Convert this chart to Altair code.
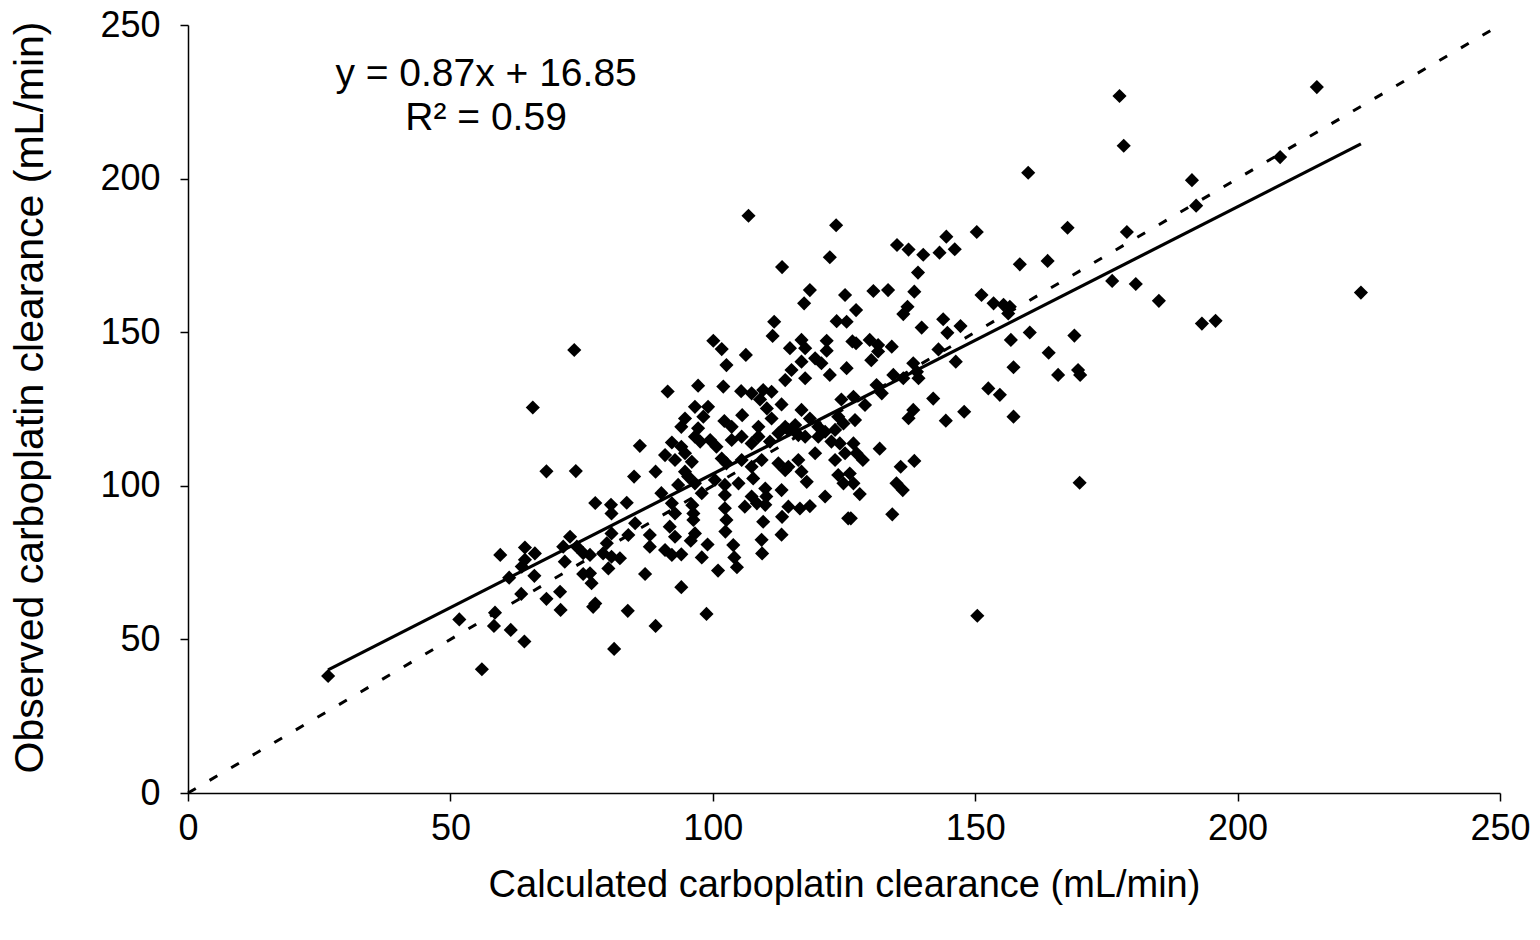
import altair as alt
import pandas as pd

# Calculated (x) and observed (y) carboplatin clearance, mL/min
calc = [
    26.7, 56.0, 59.5, 64.2, 66.1, 64.2, 61.2, 63.6, 63.5, 66.0, 68.3, 70.9, 71.0, 71.8, 72.8, 71.5, 74.1, 75.3, 75.3, 51.7,
    58.3, 58.5, 61.5, 64.1, 73.6, 65.7, 68.3, 73.9,
    77.6, 80.6, 83.6, 80.7, 85.2, 83.9, 80.7, 79.8, 76.6, 79.1, 80.7, 82.3, 80.1, 76.6, 76.9, 77.6, 77.2, 87.1, 88.0, 83.8,
    81.2, 89.1, 94.0, 98.8, 90.9, 92.2, 94.0, 97.9, 99.0, 101.0, 103.9, 104.1, 104.6, 109.3, 109.4, 113.1, 113.2, 109.6,
    102.4, 102.6, 102.3, 95.8, 96.6, 96.3, 96.3, 96.1, 92.8, 91.8, 92.8, 92.2, 114.4, 116.6, 118.5, 125.8, 106.1, 108.4,
    110.0, 88.0,
    134.2, 126.3, 150.4,
    118.5, 125.2, 117.4, 111.7, 111.4, 100.1, 101.7, 106.3, 102.6, 114.7, 116.9, 117.6, 121.7, 121.7, 123.6, 125.5, 116.9,
    119.5, 120.7, 115.0, 113.8, 117.6, 122.3, 125.5, 91.4, 97.2, 102.0, 105.4, 107.4, 109.6, 111.2, 109.0, 110.3, 113.1,
    116.9, 96.6, 99.1, 98.2, 94.7, 94.0, 97.2, 102.2, 105.6, 103.6, 108.7, 111.2, 113.8, 115.7, 118.5, 120.1, 124.5, 123.9,
    123.3, 124.9, 86.1, 92.2, 94.0, 96.6, 97.6, 99.5, 100.7, 103.6, 105.5, 107.4, 108.7, 110.9, 112.5, 114.4, 116.3, 117.6,
    120.1, 121.4, 122.6, 124.2, 90.9, 92.8, 94.7, 96.0, 101.7, 102.6, 105.5, 107.4, 109.3, 112.5, 114.4, 116.3, 119.5, 123.3,
    125.2, 85.0, 89.1, 94.7, 96.6, 95.3, 100.4, 102.3, 104.9, 107.7, 110.0, 113.1, 113.8, 116.9, 117.9, 123.9, 124.9, 93.4,
    90.2, 97.9, 102.3, 107.4, 110.2, 121.4,
    130.6, 133.4, 138.4, 151.2, 153.5, 155.4, 156.6, 156.3, 137.1, 136.3, 127.3, 139.8, 143.9, 147.2, 144.7, 156.8, 160.4,
    168.9, 164.0, 157.3, 165.8, 169.6, 170.0, 152.5, 154.7, 157.3, 169.9, 126.6, 129.9, 131.5, 134.1, 130.2, 131.5, 143.0,
    146.3, 138.2, 138.9, 139.2, 136.3, 134.4, 131.2, 132.2, 129.0, 126.8, 127.1, 142.0, 138.2, 137.3, 144.4, 147.9, 126.8,
    127.4, 128.6, 131.8, 126.1, 126.8, 128.0, 135.8, 138.4, 135.0, 136.2, 127.3,
    106.8, 123.5, 122.3, 113.2, 160.1, 167.6, 150.3, 144.5, 135.1, 137.3, 140.1, 143.2, 146.1, 139.1, 158.5, 163.8, 176.1,
    215.1, 177.5, 178.3, 191.3, 192.1, 208.1, 178.9, 180.6, 185.0, 193.2, 195.8, 223.5,
]
obs = [
    38.1, 40.3, 77.5, 79.9, 78.0, 75.9, 70.1, 73.7, 64.8, 70.7, 63.2, 65.5, 59.6, 75.3, 83.4, 80.2, 80.2, 78.1, 71.3, 56.5,
    54.4, 58.7, 53.1, 49.3, 144.2, 125.5, 104.7, 104.8,
    94.4, 93.8, 94.5, 91.0, 87.8, 84.0, 84.5, 81.3, 77.5, 78.0, 76.9, 76.4, 73.1, 71.5, 68.3, 61.7, 60.6, 71.3, 80.2, 59.3,
    46.9, 54.4, 67.0, 58.3, 79.1, 77.5, 77.7, 76.7, 80.9, 72.4, 80.7, 76.7, 73.5, 82.4, 78.0, 84.1, 89.9, 88.3,
    85.1, 88.9, 92.7, 82.1, 84.5, 88.9, 91.0, 93.7, 83.4, 86.7, 91.0, 94.3, 93.2, 92.6, 93.4, 89.4, 93.2, 94.3,
    93.8, 84.0,
    90.7, 89.4, 57.7,
    163.7, 162.1, 159.4, 153.4, 148.8, 147.2, 144.5, 142.6, 139.3, 144.8, 147.5, 144.8, 147.2, 144.0, 153.6, 153.4, 140.4,
    141.5, 139.9, 137.7, 134.4, 135.0, 136.1, 138.3, 130.7, 132.6, 132.3, 130.8, 130.1, 131.2, 130.6, 128.1, 125.2, 126.5,
    124.7, 125.7, 125.7, 122.5, 121.9, 119.2, 118.7, 121.1, 123.0, 119.2, 119.2, 121.9, 119.2, 119.8, 121.9, 119.2, 128.1, 122.5,
    118.2, 120.3, 113.0, 114.1, 112.7, 116.0, 114.4, 114.9, 112.7, 114.9, 116.0, 113.8, 116.0, 114.4, 117.1, 118.2, 116.5, 116.0,
    116.0, 117.6, 114.4, 113.8, 110.0, 108.4, 110.6, 107.8, 108.9, 107.3, 108.4, 106.2, 108.4, 107.3, 106.2, 108.4, 110.6, 108.4,
    110.6, 103.0, 104.6, 104.6, 100.8, 103.0, 101.9, 100.3, 100.8, 102.4, 99.1, 98.6, 105.1, 104.6, 101.3, 103.5, 100.8, 100.3,
    97.6, 97.6, 97.0, 96.5, 96.5, 96.5,
    163.4, 163.7, 163.2, 162.1, 159.4, 158.9, 158.3, 156.1, 158.3, 155.9, 157.2, 151.5, 154.2, 152.0, 149.8, 147.5, 149.9,
    148.9, 143.3, 138.6, 136.1, 137.7, 136.1, 131.7, 129.6, 122.5, 101.0, 147.0, 147.5, 145.8, 145.3, 140.9, 143.7, 144.4,
    140.4, 139.9, 137.1, 135.0, 135.0, 136.1, 132.8, 130.1, 126.3, 129.0, 121.4, 128.4, 124.7, 122.0, 121.2, 124.1, 113.8,
    110.6, 108.4, 112.1, 104.0, 100.8, 97.3, 106.2, 108.1, 100.8, 98.6, 146.4,
    187.9, 184.8, 174.4, 171.2, 201.9, 184.0, 182.6, 181.1, 178.4, 176.9, 175.2, 175.9, 177.0, 169.4, 172.1, 173.2, 166.7,
    229.8, 226.9, 210.7, 199.5, 191.2, 207.0, 182.6, 165.7, 160.2, 152.8, 153.7, 162.9,
]

slope = 0.87
intercept = 16.85
axis_ticks = [0, 50, 100, 150, 200, 250]
identity_ends = [0, 250]
eq_lines = ["y = 0.87x + 16.85", "R\u00b2 = 0.59"]
eq_x = [56.8, 56.8]
eq_y = [234.2, 219.6]

FONT = "Liberation Sans"

pts = pd.DataFrame({"calc": calc, "obs": obs})
xmin, xmax = min(calc), max(calc)
fit = pd.DataFrame({"calc": [xmin, xmax],
                    "obs": [slope * xmin + intercept, slope * xmax + intercept]})
ident = pd.DataFrame({"calc": identity_ends, "obs": identity_ends})
ann = pd.DataFrame({"calc": eq_x, "obs": eq_y, "label": eq_lines})

xscale = alt.Scale(domain=[0, 250], nice=False)
yscale = alt.Scale(domain=[0, 250], nice=False)

xaxis = alt.Axis(title="Calculated carboplatin clearance (mL/min)", values=axis_ticks,
                 grid=False, tickSize=8, labelPadding=10, titlePadding=20,
                 labelFlush=False)
yaxis = alt.Axis(title="Observed carboplatin clearance (mL/min)", values=axis_ticks,
                 grid=False, tickSize=8, labelPadding=20, titlePadding=48,
                 labelFlush=False, titleFontSize=41, titleY=372)

X = alt.X("calc:Q", scale=xscale, axis=xaxis)
Y = alt.Y("obs:Q", scale=yscale, axis=yaxis)

points = alt.Chart(pts).mark_point(shape="diamond", filled=True, size=200,
                                   color="black", opacity=1).encode(x=X, y=Y)
fit_line = alt.Chart(fit).mark_line(color="black", strokeWidth=3.2).encode(x=X, y=Y)
id_line = alt.Chart(ident).mark_line(color="black", strokeWidth=3,
                                     strokeDash=[9, 16]).encode(x=X, y=Y)
text = alt.Chart(ann).mark_text(font=FONT, fontSize=39, color="black",
                                align="center", baseline="middle").encode(
    x=X, y=Y, text="label:N")

chart = alt.layer(id_line, fit_line, points, text).properties(
    width=1312, height=768,
    autosize=alt.AutoSizeParams(type="none"),
    padding={"left": 188, "top": 25, "right": 40, "bottom": 147},
    background="white",
).configure_view(stroke=None).configure_axis(
    domainColor="black", domainWidth=1.5, tickColor="black", tickWidth=1.5,
    labelFont=FONT, labelFontSize=36, labelColor="black",
    titleFont=FONT, titleFontSize=38, titleFontWeight="normal", titleColor="black",
)

chart.save("out.html", embed_options={"renderer": "svg", "actions": False})
